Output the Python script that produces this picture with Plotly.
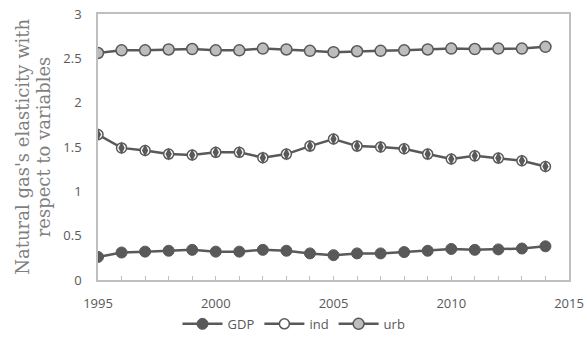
import plotly.graph_objects as go

years = list(range(1995, 2015))
gdp = [0.26, 0.31, 0.32, 0.33, 0.34, 0.32, 0.32, 0.34, 0.33, 0.30,
       0.28, 0.30, 0.30, 0.315, 0.33, 0.35, 0.34, 0.345, 0.355, 0.38]
ind = [1.64, 1.49, 1.46, 1.42, 1.41, 1.44, 1.44, 1.38, 1.42, 1.51,
       1.59, 1.51, 1.50, 1.48, 1.42, 1.365, 1.40, 1.375, 1.345, 1.28]
urb = [2.56, 2.59, 2.59, 2.60, 2.605, 2.59, 2.59, 2.61, 2.60, 2.585,
       2.57, 2.58, 2.585, 2.59, 2.60, 2.61, 2.605, 2.61, 2.61, 2.63]
y_ticks = [0, 0.5, 1, 1.5, 2, 2.5, 3]
y_ticktext = ["0", "0.5", "1", "1.5", "2", "2.5", "3"]
x_ticks = [1995, 2000, 2005, 2010, 2015]

dark = "#595959"
fig = go.Figure()
fig.add_trace(go.Scatter(x=years, y=gdp, name="GDP", mode="lines+markers",
                         line=dict(color=dark, width=2.5),
                         marker=dict(symbol="circle", size=11, color=dark,
                                     line=dict(color=dark, width=1))))
fig.add_trace(go.Scatter(x=years, y=ind, name="ind", mode="lines+markers",
                         legendgroup="ind",
                         line=dict(color=dark, width=2.5),
                         marker=dict(symbol="circle", size=10, color="white",
                                     line=dict(color=dark, width=1.5))))
fig.add_trace(go.Scatter(x=years, y=ind, name="ind", mode="markers",
                         legendgroup="ind", showlegend=False,
                         marker=dict(symbol="diamond-tall", size=9, color=dark,
                                     line=dict(width=0))))
fig.add_trace(go.Scatter(x=years, y=urb, name="urb", mode="lines+markers",
                         line=dict(color=dark, width=2.5),
                         marker=dict(symbol="circle", size=11, color="#bdbdbd",
                                     line=dict(color=dark, width=1.5))))

fig.add_annotation(text="Natural gas's elasticity with",
                   xref="paper", yref="paper", x=-0.162, y=0.5,
                   xanchor="center", yanchor="middle", textangle=-90,
                   showarrow=False,
                   font=dict(family="DejaVu Serif", size=18, color="#7f7f7f"))
fig.add_annotation(text="respect to variables",
                   xref="paper", yref="paper", x=-0.116, y=0.5,
                   xanchor="center", yanchor="middle", textangle=-90,
                   showarrow=False,
                   font=dict(family="DejaVu Serif", size=18, color="#7f7f7f"))

fig.update_layout(
    width=588, height=354,
    margin=dict(l=98, r=19, t=14, b=74),
    paper_bgcolor="white", plot_bgcolor="white",
    font=dict(family="Open Sans", size=12.5, color=dark),
    showlegend=True,
    legend=dict(orientation="h", xref="container", x=0.5, xanchor="center",
                yref="container", y=0.085, yanchor="middle",
                bgcolor="rgba(0,0,0,0)",
                font=dict(size=13, color=dark), itemwidth=40,
                tracegroupgap=0),
    xaxis=dict(range=[1995, 2015], tickvals=x_ticks, ticks="inside",
               ticklen=4, tickcolor="#bfbfbf", automargin=False,
               minor=dict(dtick=1, ticks="inside", ticklen=4, tickcolor="#bfbfbf"),
               showline=True, linecolor="#bfbfbf", linewidth=1.5, mirror=True,
               showgrid=False, zeroline=False, ticklabelstandoff=11,
               tickfont=dict(size=13, color=dark)),
    yaxis=dict(range=[0, 3], tickvals=y_ticks, ticktext=y_ticktext,
               ticks="", showline=True, linecolor="#bfbfbf", linewidth=1.5,
               mirror=True, showgrid=False, zeroline=False, automargin=False,
               ticklabelstandoff=12,
               tickfont=dict(size=13, color=dark)),
)

fig.write_html("out.html")
